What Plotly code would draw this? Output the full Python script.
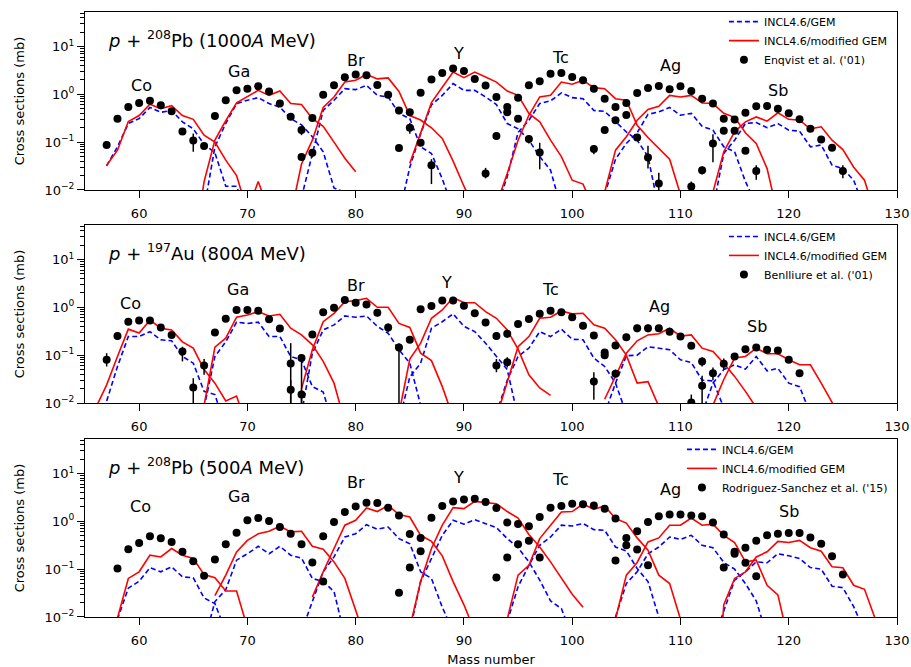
import math
import plotly.graph_objects as go

FONT = "DejaVu Sans"
BLUE = "#0000ff"
RED = "#ff0000"

# ---------------- data: (first mass number, cross sections in mb) ----------------
# p + 208Pb, 1000A MeV
PB1000_GEM = {
    "Co": (57, [0.032, 0.08, 0.245, 0.31, 0.53, 0.42, 0.46, 0.265, 0.19, 0.09, 0.06, 0.012, 0.012, 0.003]),
    "Ga": (66, [0.004, 0.08, 0.245, 0.64, 0.75, 0.85, 0.64, 0.54, 0.31, 0.23, 0.13, 0.063, 0.011, 0.009, 0.003]),
    "Br": (75, [0.007, 0.058, 0.46, 0.75, 1.31, 1.25, 1.54, 0.95, 0.88, 0.40, 0.31, 0.08, 0.058, 0.017, 0.004]),
    "Y":  (84, [0.003, 0.03, 0.15, 0.6, 0.95, 1.67, 1.21, 1.21, 0.88, 0.61, 0.245, 0.19, 0.11, 0.05, 0.026, 0.004]),
    "Tc": (93, [0.004, 0.019, 0.16, 0.287, 0.64, 0.73, 1.07, 0.85, 0.81, 0.46, 0.44, 0.265, 0.164, 0.11, 0.05, 0.004]),
    "Ag": (103, [0.008, 0.044, 0.094, 0.157, 0.38, 0.43, 0.53, 0.365, 0.40, 0.215, 0.178, 0.08, 0.063, 0.015, 0.005]),
    "Sb": (113, [0.004, 0.058, 0.11, 0.245, 0.257, 0.2, 0.245, 0.178, 0.17, 0.08, 0.087, 0.033, 0.028, 0.016, 0.004]),
}
PB1000_MOD = {
    "Co": (57, [0.033, 0.068, 0.27, 0.36, 0.62, 0.50, 0.58, 0.36, 0.30, 0.14, 0.10, 0.042, 0.020, 0.0036, 0.015, 0.0036]),
    "Ga": (65, [0.0005, 0.015, 0.11, 0.28, 0.66, 0.88, 1.21, 0.95, 1.17, 0.64, 0.61, 0.31, 0.215, 0.10, 0.046, 0.024]),
    "Br": (74, [0.003, 0.035, 0.11, 0.53, 0.88, 1.8, 1.96, 2.6, 2.1, 2.2, 1.15, 0.36, 0.29, 0.2, 0.12, 0.04, 0.012, 0.004]),
    "Y":  (85, [0.036, 0.16, 0.67, 1.4, 2.92, 2.22, 2.92, 2.3, 1.8, 1.17, 0.95, 0.40, 0.265, 0.11, 0.05, 0.016, 0.0133, 0.004]),
    "Tc": (93, [0.005, 0.022, 0.11, 0.365, 0.88, 0.95, 1.8, 1.62, 1.96, 1.38, 1.31, 0.81, 0.75, 0.226, 0.125, 0.074, 0.044, 0.008]),
    "Ag": (103, [0.009, 0.068, 0.13, 0.287, 0.48, 0.56, 0.95, 0.88, 0.95, 0.66, 0.64, 0.40, 0.33, 0.157, 0.094, 0.028, 0.003]),
    "Sb": (113, [0.009, 0.063, 0.164, 0.265, 0.337, 0.274, 0.41, 0.30, 0.287, 0.19, 0.209, 0.11, 0.07, 0.03, 0.016, 0.003]),
}
# (mass, value[, lower end, upper end of error bar])
PB1000_EXP = [
    (57, 0.087), (58, 0.31), (59, 0.54), (60, 0.66), (61, 0.73), (62, 0.59), (63, 0.44), (64, 0.167),
    (65, 0.108, 0.063, 0.151), (66, 0.083),
    (67, 0.35), (68, 0.75), (69, 1.21), (70, 1.31), (71, 1.47), (72, 1.15), (73, 0.64), (74, 0.34),
    (75, 0.18, 0.14, 0.216), (76, 0.32),
    (75, 0.049), (76, 0.06, 0.048, 0.07), (77, 0.98), (78, 1.54), (79, 2.26), (80, 2.6), (81, 2.5),
    (82, 1.56), (83, 0.98), (84, 0.46), (85, 0.42),
    (84, 0.075), (85, 0.2, 0.15, 0.25), (86, 0.097), (87, 0.033, 0.0133, 0.044),
    (86, 1.08), (87, 2.05), (88, 2.8), (89, 3.48), (90, 3.06), (91, 2.09), (92, 1.52), (93, 0.88),
    (94, 0.545), (95, 0.85),
    (92, 0.022, 0.0175, 0.029), (93, 0.134), (94, 0.42), (95, 0.31), (96, 0.116, 0.094, 0.14),
    (97, 0.061, 0.027, 0.097),
    (96, 1.54), (97, 1.87), (98, 2.7), (99, 2.78), (100, 2.3), (101, 1.96), (102, 1.31), (103, 0.81),
    (104, 0.545), (105, 0.66),
    (102, 0.072, 0.056, 0.087), (103, 0.18), (104, 0.287), (105, 0.37), (106, 0.125),
    (107, 0.048, 0.028, 0.084), (108, 0.0137, 0.009, 0.023),
    (106, 1.07), (107, 1.36), (108, 1.49), (109, 1.27), (110, 1.47), (111, 1.17), (112, 0.81),
    (113, 0.64), (114, 0.31), (115, 0.297),
    (111, 0.0118, 0.009, 0.015), (112, 0.026, 0.021, 0.031), (113, 0.094, 0.038, 0.147), (114, 0.172),
    (115, 0.172), (116, 0.066), (117, 0.025, 0.0163, 0.033),
    (116, 0.41), (117, 0.56), (118, 0.57), (119, 0.50), (120, 0.40), (121, 0.30), (122, 0.19),
    (123, 0.114), (124, 0.076), (125, 0.025, 0.0175, 0.033),
]

# p + 197Au, 800A MeV
AU800_GEM = {
    "Co": (57, [0.011, 0.058, 0.245, 0.245, 0.31, 0.21, 0.2, 0.094, 0.068, 0.0175, 0.015, 0.003]),
    "Ga": (66, [0.008, 0.094, 0.19, 0.49, 0.46, 0.49, 0.245, 0.245, 0.094, 0.08, 0.022, 0.017, 0.003]),
    "Br": (75, [0.006, 0.11, 0.337, 0.43, 0.66, 0.62, 0.66, 0.4, 0.287, 0.13, 0.068, 0.009, 0.003]),
    "Y":  (84, [0.004, 0.035, 0.068, 0.365, 0.5, 0.73, 0.4, 0.31, 0.178, 0.094, 0.05, 0.005]),
    "Tc": (93, [0.006, 0.03, 0.094, 0.14, 0.31, 0.245, 0.35, 0.215, 0.21, 0.087, 0.058, 0.026, 0.006]),
    "Ag": (103, [0.006, 0.026, 0.097, 0.1, 0.15, 0.14, 0.13, 0.08, 0.07, 0.03, 0.029, 0.008]),
    "Sb": (112, [0.006, 0.026, 0.05, 0.063, 0.051, 0.094, 0.047, 0.053, 0.026, 0.022, 0.006]),
}
AU800_MOD = {
    "Co": (56, [0.008, 0.024, 0.094, 0.35, 0.29, 0.54, 0.365, 0.337, 0.19, 0.14, 0.05, 0.026, 0.011, 0.014, 0.003]),
    "Ga": (66, [0.009, 0.147, 0.226, 0.62, 0.69, 0.81, 0.66, 0.715, 0.365, 0.265, 0.164, 0.074, 0.026, 0.004]),
    "Br": (75, [0.02, 0.13, 0.5, 0.75, 1.31, 1.38, 1.54, 1.0, 1.0, 0.46, 0.38, 0.11, 0.077, 0.022, 0.005]),
    "Y":  (84, [0.006, 0.083, 0.178, 0.59, 0.88, 1.6, 1.25, 1.25, 0.81, 0.59, 0.337, 0.134, 0.039, 0.0206, 0.0145]),
    "Tc": (93, [0.005, 0.026, 0.15, 0.245, 0.59, 0.62, 0.84, 0.73, 0.75, 0.43, 0.365, 0.21, 0.1, 0.026, 0.028, 0.0085]),
    "Ag": (103, [0.012, 0.036, 0.11, 0.2, 0.265, 0.28, 0.365, 0.25, 0.265, 0.14, 0.12, 0.068, 0.036, 0.0175, 0.008]),
    "Sb": (113, [0.009, 0.031, 0.087, 0.094, 0.14, 0.107, 0.107, 0.08, 0.063, 0.063, 0.026, 0.0103, 0.003]),
}
AU800_EXP = [
    (57, 0.08, 0.058, 0.11), (58, 0.25), (59, 0.50), (60, 0.53), (61, 0.53), (62, 0.38), (63, 0.265),
    (64, 0.12, 0.074, 0.15), (65, 0.021, 0.008, 0.033), (66, 0.061, 0.039, 0.083),
    (67, 0.296, 0.25, 0.34), (68, 0.58), (69, 0.88), (70, 0.88), (71, 0.85), (72, 0.56), (73, 0.36),
    (74, 0.067, 0.008, 0.178), (74, 0.019, 0.008, 0.03), (75, 0.087, 0.008, 0.094), (75, 0.015, 0.008, 0.019),
    (76, 0.27), (77, 0.79), (78, 0.98), (79, 1.42), (80, 1.25), (81, 1.15), (82, 0.77, 0.65, 0.9),
    (83, 0.38, 0.3, 0.46), (84, 0.145, 0.008, 0.178), (85, 0.21),
    (86, 0.91), (87, 1.07), (88, 1.38), (89, 1.38), (90, 1.08), (91, 0.75), (92, 0.48), (93, 0.25),
    (94, 0.28, 0.23, 0.34), (93, 0.061, 0.044, 0.083), (94, 0.071, 0.055, 0.09),
    (95, 0.45, 0.38, 0.52), (96, 0.57, 0.5, 0.66), (97, 0.73), (98, 0.85), (99, 0.79), (100, 0.62),
    (101, 0.41), (102, 0.257), (103, 0.114, 0.09, 0.13), (103, 0.1), (102, 0.028, 0.0117, 0.044),
    (104, 0.16, 0.14, 0.19), (104, 0.041, 0.035, 0.05), (105, 0.237, 0.2, 0.28), (106, 0.365, 0.3, 0.44),
    (107, 0.365, 0.3, 0.44), (108, 0.365), (109, 0.31), (110, 0.245), (111, 0.157),
    (112, 0.074, 0.058, 0.09), (113, 0.042, 0.03, 0.055), (114, 0.066, 0.05, 0.085),
    (112, 0.023, 0.008, 0.037), (111, 0.0103, 0.008, 0.015),
    (115, 0.094), (116, 0.133), (117, 0.145), (118, 0.13), (119, 0.125), (120, 0.08), (121, 0.042),
]

# p + 208Pb, 500A MeV
PB500_GEM = {
    "Co": (58, [0.009, 0.04, 0.056, 0.107, 0.088, 0.112, 0.069, 0.066, 0.025, 0.019, 0.005]),
    "Ga": (66, [0.003, 0.021, 0.037, 0.154, 0.21, 0.3, 0.21, 0.3, 0.196, 0.17, 0.064, 0.055, 0.034, 0.004]),
    "Br": (75, [0.005, 0.021, 0.088, 0.18, 0.47, 0.55, 0.85, 0.68, 0.76, 0.435, 0.34, 0.088, 0.064, 0.016, 0.005]),
    "Y":  (85, [0.005, 0.055, 0.167, 0.51, 1.05, 0.87, 1.08, 0.9, 0.74, 0.435, 0.28, 0.142, 0.059, 0.0217, 0.015, 0.004]),
    "Tc": (94, [0.008, 0.043, 0.12, 0.316, 0.47, 0.83, 0.8, 0.9, 0.67, 0.65, 0.29, 0.24, 0.103, 0.055, 0.01, 0.003]),
    "Ag": (104, [0.01, 0.05, 0.088, 0.21, 0.29, 0.47, 0.42, 0.51, 0.316, 0.28, 0.138, 0.1, 0.05, 0.0216, 0.004]),
    "Sb": (113, [0.003, 0.013, 0.059, 0.088, 0.142, 0.136, 0.21, 0.19, 0.167, 0.108, 0.1, 0.044, 0.041, 0.0164, 0.005]),
}
PB500_MOD = {
    "Co": (58, [0.0095, 0.064, 0.088, 0.196, 0.18, 0.27, 0.196, 0.167, 0.077, 0.066, 0.035, 0.035, 0.006]),
    "Ga": (67, [0.028, 0.075, 0.23, 0.4, 0.55, 0.62, 0.79, 0.6, 0.62, 0.3, 0.26, 0.142, 0.064, 0.013, 0.003]),
    "Br": (76, [0.026, 0.088, 0.27, 0.83, 1.05, 1.9, 1.6, 2.15, 1.38, 1.23, 0.51, 0.38, 0.19, 0.055, 0.018, 0.005]),
    "Y":  (85, [0.006, 0.055, 0.27, 0.83, 1.93, 1.84, 2.6, 2.45, 2.33, 1.6, 1.17, 0.53, 0.29, 0.142, 0.064, 0.03, 0.016]),
    "Tc": (94, [0.009, 0.075, 0.12, 0.435, 0.83, 1.56, 1.6, 2.3, 1.78, 2.09, 1.14, 0.92, 0.45, 0.25, 0.075, 0.05, 0.009]),
    "Ag": (104, [0.009, 0.075, 0.138, 0.37, 0.45, 0.83, 0.83, 1.17, 0.83, 0.87, 0.51, 0.36, 0.142, 0.154, 0.046, 0.029, 0.003]),
    "Sb": (113, [0.00001, 0.018, 0.064, 0.088, 0.18, 0.23, 0.38, 0.36, 0.4, 0.28, 0.237, 0.112, 0.107, 0.046, 0.038, 0.009]),
}
PB500_EXP = [
    (58, 0.103, 0.09, 0.12), (59, 0.26), (60, 0.35), (61, 0.49), (62, 0.44), (63, 0.37), (64, 0.23),
    (65, 0.147), (66, 0.073),
    (67, 0.16), (68, 0.33), (69, 0.58), (70, 1.05), (71, 1.17), (72, 1.02), (73, 0.76), (74, 0.55),
    (75, 0.33), (76, 0.138), (77, 0.055),
    (77, 0.49), (78, 0.97), (79, 1.56), (80, 2.05), (81, 2.45), (82, 2.4), (83, 1.93), (84, 1.33),
    (85, 0.54), (86, 0.45), (84, 0.032, 0.028, 0.037), (85, 0.108), (86, 0.237),
    (87, 1.19), (88, 2.09), (89, 2.6), (90, 2.87), (91, 2.96), (92, 2.53), (93, 1.9), (94, 0.94),
    (95, 0.88), (96, 0.79), (93, 0.067), (94, 0.175), (95, 0.33), (96, 0.39),
    (97, 1.23), (97, 0.175), (98, 1.93), (99, 2.09), (100, 2.33), (101, 2.26), (102, 2.15), (103, 1.84),
    (104, 1.14), (105, 0.45), (106, 0.62), (107, 0.97), (104, 0.152), (105, 0.316), (106, 0.257), (107, 0.121),
    (108, 1.27), (109, 1.38), (110, 1.38), (111, 1.33), (112, 1.27), (113, 0.94), (114, 0.53), (115, 0.23),
    (116, 0.28), (117, 0.39), (114, 0.108), (115, 0.21), (116, 0.136), (117, 0.071),
    (118, 0.51), (119, 0.55), (120, 0.57), (121, 0.57), (122, 0.46), (123, 0.34), (124, 0.187), (125, 0.077),
]

# element labels: (mass, cross section) at the text centre
PB1000_LABELS = {"Co": (60.2, 1.55), "Ga": (69.2, 3.0), "Br": (80.0, 5.1), "Y": (89.5, 7.1),
                 "Tc": (98.9, 5.9), "Ag": (109.1, 4.0), "Sb": (119.0, 1.2)}
AU800_LABELS = {"Co": (59.2, 1.2), "Ga": (69.1, 2.37), "Br": (80.0, 2.9), "Y": (88.4, 3.25),
                "Tc": (98.0, 2.37), "Ag": (108.1, 1.02), "Sb": (117.1, 0.4)}
PB500_LABELS = {"Co": (60.1, 2.0), "Ga": (69.2, 3.3), "Br": (80.0, 6.6), "Y": (89.5, 8.3),
                "Tc": (98.95, 7.4), "Ag": (109.1, 4.7), "Sb": (120.0, 1.6)}

PANELS = [
    dict(gem=PB1000_GEM, mod=PB1000_MOD, exp=PB1000_EXP, labels=PB1000_LABELS,
         exp_name="Enqvist et al. ('01)",
         title="<i>p</i> + <sup>208</sup>Pb (1000<i>A</i> MeV)"),
    dict(gem=AU800_GEM, mod=AU800_MOD, exp=AU800_EXP, labels=AU800_LABELS,
         exp_name="Benlliure et al. ('01)",
         title="<i>p</i> + <sup>197</sup>Au (800<i>A</i> MeV)"),
    dict(gem=PB500_GEM, mod=PB500_MOD, exp=PB500_EXP, labels=PB500_LABELS,
         exp_name="Rodriguez-Sanchez et al. ('15)",
         title="<i>p</i> + <sup>208</sup>Pb (500<i>A</i> MeV)"),
]

X_TICKS = [60, 70, 80, 90, 100, 110, 120, 130]
Y_TICKS = [0.01, 0.1, 1, 10]
Y_TICKTEXT = ["10<sup>\u22122</sup>", "10<sup>\u22121</sup>", "10<sup>0</sup>", "10<sup>1</sup>"]

# ---------------- layout geometry ----------------
DOMAINS = [[0.7058, 1.0], [0.3537, 0.6479], [0.0, 0.2942]]
LEGEND_Y = [1.008, 0.653, 0.301]

fig = go.Figure()

for i, p in enumerate(PANELS):
    xr = "x" if i == 0 else f"x{i+1}"
    yr = "y" if i == 0 else f"y{i+1}"
    leg = "legend" if i == 0 else f"legend{i+1}"
    first = True
    for el, (a0, vals) in p["gem"].items():
        fig.add_trace(go.Scatter(
            x=list(range(a0, a0 + len(vals))), y=vals, mode="lines",
            line=dict(color=BLUE, width=1.6, dash="5px,3px"),
            name="INCL4.6/GEM", legendgroup=f"gem{i}", showlegend=first,
            xaxis=xr, yaxis=yr, legend=leg))
        first = False
    first = True
    for el, (a0, vals) in p["mod"].items():
        fig.add_trace(go.Scatter(
            x=list(range(a0, a0 + len(vals))), y=vals, mode="lines",
            line=dict(color=RED, width=1.6),
            name="INCL4.6/modified GEM", legendgroup=f"mod{i}", showlegend=first,
            xaxis=xr, yaxis=yr, legend=leg))
        first = False
    ex = [r[0] for r in p["exp"]]
    ey = [r[1] for r in p["exp"]]
    eup = [(r[3] - r[1]) if len(r) > 2 else 0 for r in p["exp"]]
    edn = [(r[1] - r[2]) if len(r) > 2 else 0 for r in p["exp"]]
    fig.add_trace(go.Scatter(
        x=ex, y=ey, mode="markers",
        marker=dict(color="black", size=8),
        error_y=dict(type="data", symmetric=False, array=eup, arrayminus=edn,
                     color="black", thickness=1.5, width=0),
        name=p["exp_name"], showlegend=True, xaxis=xr, yaxis=yr, legend=leg))

    for el, (lx, ly) in p["labels"].items():
        fig.add_annotation(x=lx, y=math.log10(ly), xref=xr, yref=yr, text=el, showarrow=False,
                           font=dict(family=FONT, size=16, color="black"))
    fig.add_annotation(x=0.026, y=0.85, xref=f"{xr} domain", yref=f"{yr} domain",
                       xanchor="left", yanchor="middle", text=p["title"], showarrow=False,
                       font=dict(family=FONT, size=18, color="black"))

    xa = dict(domain=[0, 1], range=[55, 130], anchor=yr, tickvals=X_TICKS,
              ticks="outside", ticklen=7, tickwidth=1, tickcolor="black",
              showline=True, linecolor="black", linewidth=1, mirror=True,
              showgrid=False, zeroline=False, ticklabelstandoff=4, automargin=False,
              tickfont=dict(family=FONT, size=13, color="black"))
    ya = dict(domain=DOMAINS[i], type="log", range=[-2, 1.72], anchor=xr,
              tickvals=Y_TICKS, ticktext=Y_TICKTEXT, automargin=False,
              ticks="outside", ticklen=7, tickwidth=1, tickcolor="black",
              minor=dict(ticks="outside", ticklen=4, tickcolor="black", tickwidth=1,
                         tickvals=[k * 10 ** e for e in range(-2, 2) for k in range(2, 10)]),
              showline=True, linecolor="black", linewidth=1, mirror=True,
              showgrid=False, zeroline=False,
              tickfont=dict(family=FONT, size=13, color="black"),
              title=dict(text="Cross sections (mb)", font=dict(family=FONT, size=13, color="black"),
                         standoff=16))
    if i == 2:
        xa["title"] = dict(text="Mass number", font=dict(family=FONT, size=13, color="black"),
                           standoff=9)
    fig.update_layout(**{("xaxis" if i == 0 else f"xaxis{i+1}"): xa,
                         ("yaxis" if i == 0 else f"yaxis{i+1}"): ya,
                         leg: dict(x=0.995, xanchor="right", y=LEGEND_Y[i], yanchor="top",
                                   bgcolor="rgba(0,0,0,0)", borderwidth=0,
                                   font=dict(family=FONT, size=11, color="black"),
                                   itemwidth=30, tracegroupgap=0)})

fig.update_layout(
    width=911, height=667,
    margin=dict(l=85, r=14, t=12, b=50, autoexpand=False),
    paper_bgcolor="white", plot_bgcolor="white",
    font=dict(family=FONT, size=13, color="black"),
    hovermode=False,
)

fig.write_html("out.html", config={"displayModeBar": False},
               post_script="document.body.style.margin='0px';")
